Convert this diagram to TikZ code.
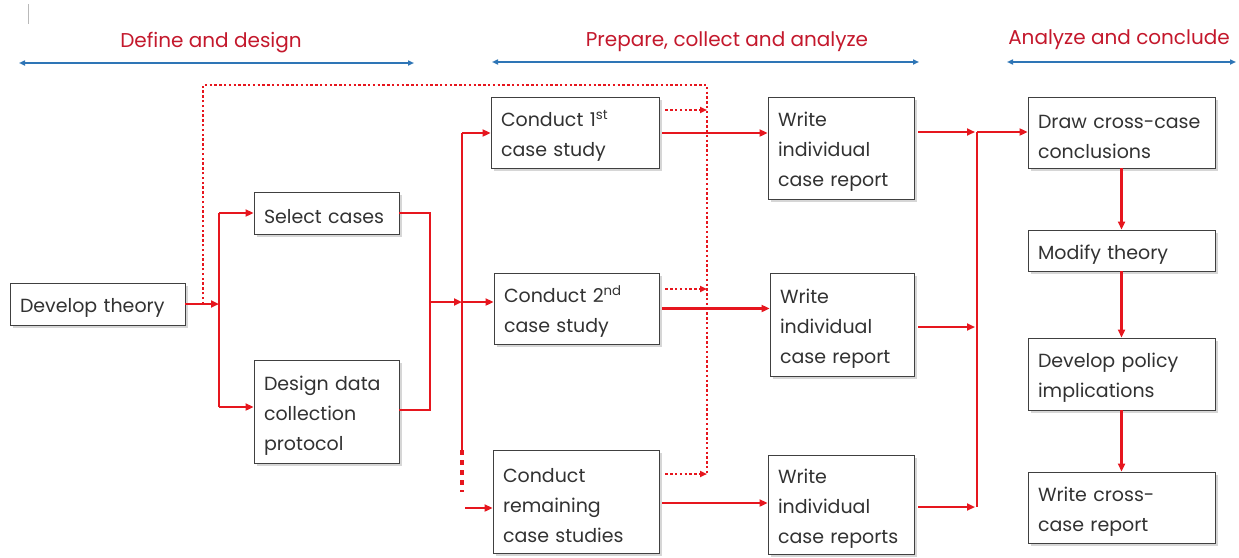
\documentclass[tikz,border=0pt]{standalone}
\usepackage{fontspec}
\setmainfont{Poppins}
\usetikzlibrary{arrows.meta,shadows}
\definecolor{lred}{RGB}{230,22,30}
\definecolor{hred}{RGB}{196,24,44}
\definecolor{lblue}{RGB}{46,117,182}
\definecolor{tgray}{RGB}{50,50,50}
\tikzset{
  box/.style={draw=black!75, line width=0.9pt, fill=white,
    drop shadow={shadow xshift=3pt, shadow yshift=-3pt, opacity=0.35, fill=black!45},
    align=left, inner xsep=10pt, inner ysep=1pt,
    execute at begin node={\rule{0pt}{22pt}},
    font=\fontsize{19}{30}\selectfont, text=tgray},
  wire/.style={lred, line width=2.3pt},
  flow/.style={wire, -{Triangle[length=8pt,width=7pt]}},
  dots/.style={lred, line width=2.4pt, dash pattern=on 2.4pt off 2.4pt},
  dotflow/.style={dots, -{Triangle[length=7pt,width=6pt]}},
  phase/.style={lblue, line width=1.6pt, {Triangle[length=6pt,width=5pt]}-{Triangle[length=6pt,width=5pt]}},
  phasetext/.style={text=hred, font=\fontsize{20}{22}\selectfont},
}
\begin{document}
\begin{tikzpicture}[x=1pt,y=-1pt]
\useasboundingbox[fill=white] (0,0) rectangle (1239,557);
% cursor mark
\draw[gray!55, line width=1pt] (28,4) -- (28,24);

% phase headers
\node[phasetext] (t1) at (211,43) {Define and design};
\node[phasetext] (t2) at (727,42) {Prepare, collect and analyze};
\node[phasetext] (t3) at (1119,40) {Analyze and conclude};
\coordinate (p1a) at (19,63); \coordinate (p1b) at (414,63);
\coordinate (p2a) at (492,62); \coordinate (p2b) at (919,62);
\coordinate (p3a) at (1007,62); \coordinate (p3b) at (1236,62);
\draw[phase] (p1a) -- (p1b);
\draw[phase] (p2a) -- (p2b);
\draw[phase] (p3a) -- (p3b);

% boxes
\node[box, minimum width=175pt, minimum height=42pt, text width=155pt] (dt) at (97.5,304) {Develop theory};
\node[box, minimum width=145pt, minimum height=42pt, text width=125pt] (sc) at (326.5,213) {Select cases};
\node[box, minimum width=145pt, minimum height=103pt, text width=125pt] (dd) at (326.5,411.5) {Design data\\collection\\protocol};
\node[box, minimum width=168pt, minimum height=71pt, text width=148pt] (c1) at (575,132.5) {Conduct 1\textsuperscript{st}\\case study};
\node[box, minimum width=165pt, minimum height=71pt, text width=145pt] (c2) at (576.5,308.5) {Conduct 2\textsuperscript{nd}\\case study};
\node[box, minimum width=166pt, minimum height=103pt, text width=146pt] (c3) at (576,501.5) {Conduct\\remaining\\case studies};
\node[box, minimum width=146pt, minimum height=102pt, text width=126pt] (w1) at (841,148) {Write\\individual\\case report};
\node[box, minimum width=144pt, minimum height=103pt, text width=124pt] (w2) at (842,324.5) {Write\\individual\\case report};
\node[box, minimum width=146pt, minimum height=99pt, text width=126pt] (w3) at (841,504.5) {Write\\individual\\case reports};
\node[box, minimum width=187pt, minimum height=71pt, text width=167pt] (dc) at (1121.5,132.5) {Draw cross-case\\conclusions};
\node[box, minimum width=187pt, minimum height=41pt, text width=167pt] (mt) at (1121.5,250.5) {Modify theory};
\node[box, minimum width=187pt, minimum height=72pt, text width=167pt] (dp) at (1121.5,374) {Develop policy\\implications};
\node[box, minimum width=187pt, minimum height=71pt, text width=167pt] (wc) at (1121.5,507.5) {Write cross-\\case report};

% junction coordinates
\coordinate (j1) at (219,304);
\coordinate (j1t) at (219,213);
\coordinate (j1b) at (219,407);
\coordinate (j2t) at (430,213);
\coordinate (j2) at (430,302);
\coordinate (j2b) at (430,410);
\coordinate (j3) at (462,302);
\coordinate (j3t) at (462,133);
\coordinate (j3b) at (462,450);
\coordinate (j3d) at (462,492);
\coordinate (j3r) at (465,508);
\coordinate (d0) at (203,304);
\coordinate (d1) at (203,85);
\coordinate (d2) at (707,85);
\coordinate (d3) at (707,474);
\coordinate (e1) at (707,110);
\coordinate (e2) at (707,289);
\coordinate (e3) at (707,474);
\coordinate (k1) at (977,132);
\coordinate (k2) at (977,327);
\coordinate (k3) at (977,507);
\coordinate (r3) at (700,503);

% dotted feedback loop
\draw[dots] (d0) -- (d1) -- (d2) -- (d3);
\draw[dotflow, shorten <=6pt] (c1.east |- e1) -- (e1);
\draw[dotflow, shorten <=6pt] (c2.east |- e2) -- (e2);
\draw[dotflow, shorten <=6pt] (c3.east |- e3) -- (e3);

% define & design connectors
\draw[flow] (dt.east) -- (j1);
\draw[wire] (j1t) -- (j1b);
\draw[flow] (j1t) -- (sc.west |- j1t);
\draw[flow] (j1b) -- (dd.west |- j1b);
\draw[wire] (sc.east) -- (j2t) -- (j2b) -- (dd.east |- j2b);
\draw[flow] (j2) -- (j3);
\draw[flow] (j3) -- (c2.west |- j3);
\draw[wire] (j3t) -- (j3b);
\draw[flow] (j3t) -- (c1.west |- j3t);
\draw[lred, line width=3.2pt, dash pattern=on 5pt off 5pt] (j3b) -- (j3d);
\draw[flow] (j3r) -- (c3.west |- j3r);

% conduct -> write
\draw[flow, shorten <=3pt] (c1.east |- j3t) -- (w1.west |- j3t);
\draw[flow, shorten <=3pt] (c2.east) -- (w2.west |- c2.east);
\draw[flow, shorten <=3pt] (c3.east |- r3) -- (w3.west |- r3);

% write -> cross-case
\draw[flow, shorten <=4pt, shorten >=2pt] (w1.east |- k1) -- (k1);
\draw[flow, shorten <=4pt, shorten >=2pt] (w2.east |- k2) -- (k2);
\draw[flow, shorten <=4pt, shorten >=2pt] (w3.east |- k3) -- (k3);
\draw[wire] (k1) -- (k3);
\draw[flow] (k1) -- (dc.west |- k1);

% right column
\draw[flow] (dc.south) -- (mt.north);
\draw[flow] (mt.south) -- (dp.north);
\draw[flow] (dp.south) -- (wc.north);
\end{tikzpicture}
\end{document}
